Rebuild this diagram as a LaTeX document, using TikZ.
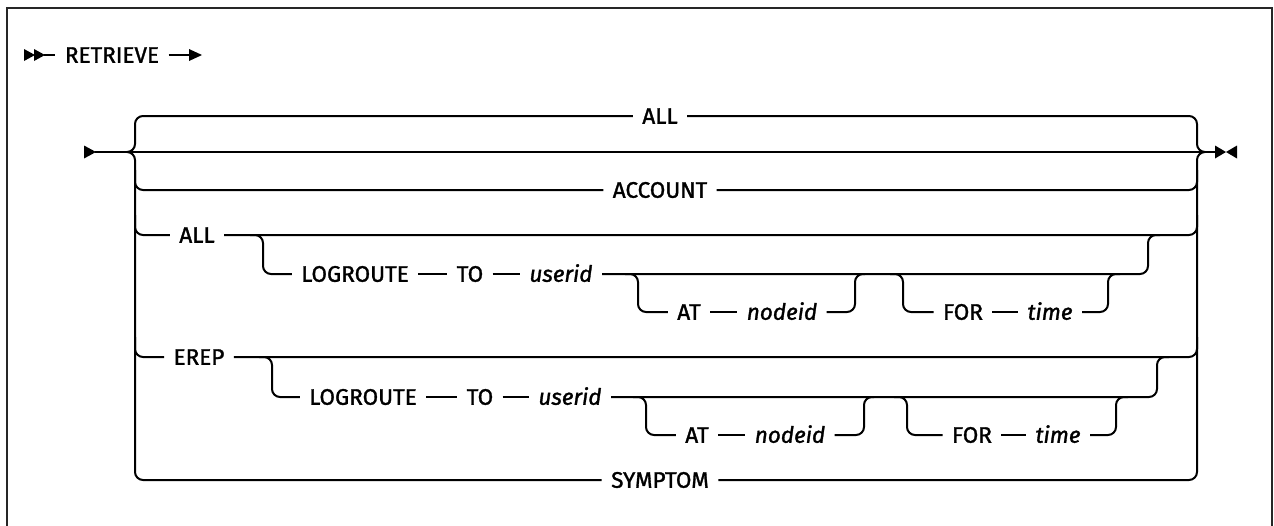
\documentclass[tikz,border=0pt]{standalone}
\usepackage{fontspec}
\setmainfont{Fira Sans}[FakeBold=1.4]
\begin{document}
\begin{tikzpicture}[x=1pt,y=-1pt, line width=2pt,
  rc/.style={rounded corners=8pt},
  kw/.style={font=\fontsize{22.5}{27}\selectfont, text height=15.5pt, text depth=0pt, inner ysep=0pt, inner xsep=8.5pt},
  var/.style={kw, font=\fontsize{22.5}{27}\selectfont\itshape}]
\useasboundingbox (0,0) rectangle (1274,525);
\draw[line width=2.5pt, black!85] (7,527) -- (7,8) -- (1272,8) -- (1272,527);

% labels
\node[kw] (ret) at (112,55) {RETRIEVE};
\node[kw] (allA) at (660,116) {ALL};
\node[kw] (acct) at (660,190) {ACCOUNT};
\node[kw] (allB) at (197,235) {ALL};
\node[kw] (logB) at (355,274) {LOGROUTE};
\node[kw] (toB) at (470,274) {TO};
\node[var] (uidB) at (561,274) {userid};
\node[kw] (atB) at (689,312) {AT};
\node[var] (nidB) at (782,312) {nodeid};
\node[kw] (forB) at (963,312) {FOR};
\node[var] (timB) at (1050,312) {time};
\node[kw] (erep) at (199,357) {EREP};
\node[kw] (logC) at (363,397) {LOGROUTE};
\node[kw] (toC) at (480,397) {TO};
\node[var] (uidC) at (570,397) {userid};
\node[kw] (atC) at (697,435) {AT};
\node[var] (nidC) at (790,435) {nodeid};
\node[kw] (forC) at (972,435) {FOR};
\node[var] (timC) at (1058,435) {time};
\node[kw] (sym) at (660,480) {SYMPTOM};

% junction coordinates
\coordinate (s1) at (44,55);
\coordinate (s2) at (190,55);
\coordinate (m0) at (95,152);
\coordinate (m1) at (1215,152);

% start / end symbols
\fill (24,49) -- (35,55) -- (24,61) -- cycle;
\fill (34,49) -- (45,55) -- (34,61) -- cycle;
\draw (s1) -- (ret.west);
\draw (ret.east) -- (s2);
\fill (189,49) -- (202,55) -- (189,61) -- cycle;

\fill (84,145.5) -- (96,152) -- (84,158.5) -- cycle;
\draw (m0) -- (m1);
\fill (1215,145.5) -- (1226,152) -- (1215,158.5) -- cycle;
\fill (1237,145.5) -- (1226,152) -- (1237,158.5) -- cycle;

% left brace and rails
\draw[rc] (allA.west) -- (135,116) -- (135,152) -- (127,152);
\draw[rc] (127,152) -- (135,152) -- (135,480) -- (sym.west);
\draw[rc] (135,170) -- (135,190) -- (acct.west);
\draw[rc] (135,215) -- (135,235) -- (allB.west);
\draw[rc] (135,337) -- (135,357) -- (erep.west);

% right brace and rails
\draw[rc] (allA.east) -- (1197,116) -- (1197,152) -- (1205,152);
\draw[rc] (1205,152) -- (1197,152) -- (1197,480) -- (sym.east);
\draw[rc] (acct.east) -- (1197,190) -- (1197,170);
\draw[rc] (allB.east) -- (1197,235) -- (1197,215);
\draw[rc] (erep.east) -- (1197,357) -- (1197,337);

% ALL + LOGROUTE branch
\draw[rc] (250,235) -- (263,235) -- (263,274) -- (logB.west);
\draw (logB.east) -- (toB.west);
\draw (toB.east) -- (uidB.west);
\draw[rc] (uidB.east) -- (1148,274) -- (1148,235) -- (1160,235);
\draw[rc] (625,274) -- (638,274) -- (638,312) -- (atB.west);
\draw (atB.east) -- (nidB.west);
\draw[rc] (nidB.east) -- (855,312) -- (855,274) -- (865,274);
\draw[rc] (890,274) -- (903,274) -- (903,312) -- (forB.west);
\draw (forB.east) -- (timB.west);
\draw[rc] (timB.east) -- (1108,312) -- (1108,274) -- (1120,274);

% EREP + LOGROUTE branch
\draw[rc] (259,357) -- (272,357) -- (272,397) -- (logC.west);
\draw (logC.east) -- (toC.west);
\draw (toC.east) -- (uidC.west);
\draw[rc] (uidC.east) -- (1157,397) -- (1157,357) -- (1169,357);
\draw[rc] (633,397) -- (646,397) -- (646,435) -- (atC.west);
\draw (atC.east) -- (nidC.west);
\draw[rc] (nidC.east) -- (864,435) -- (864,397) -- (874,397);
\draw[rc] (894,397) -- (907,397) -- (907,435) -- (forC.west);
\draw (forC.east) -- (timC.west);
\draw[rc] (timC.east) -- (1116,435) -- (1116,397) -- (1128,397);
\end{tikzpicture}
\end{document}
